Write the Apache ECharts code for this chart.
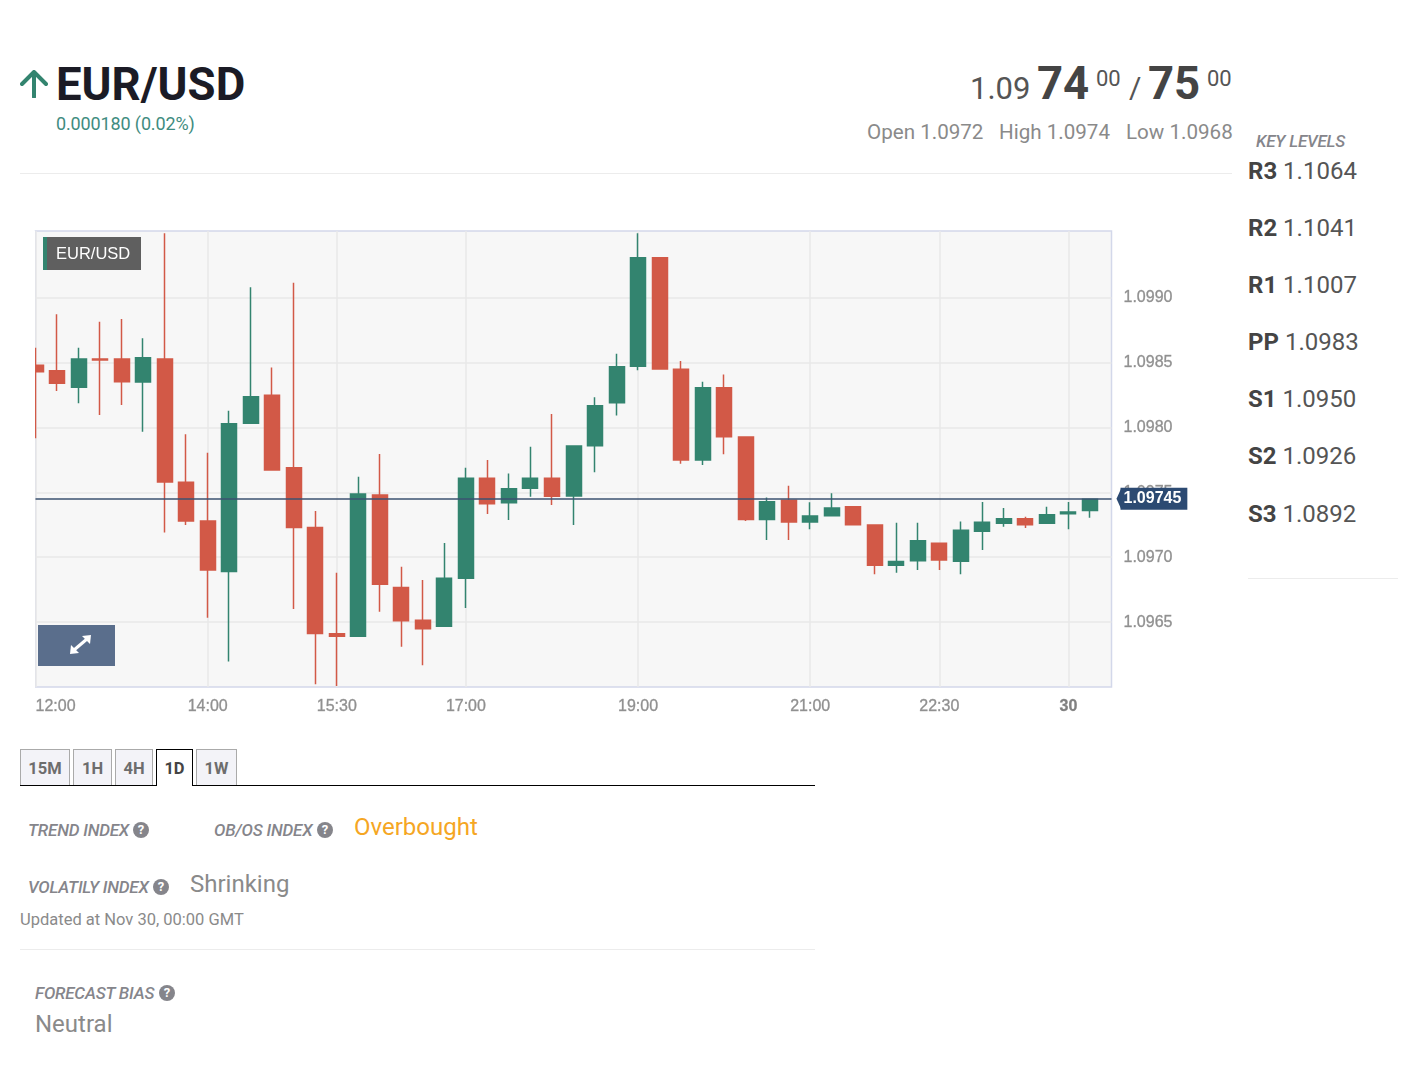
<!DOCTYPE html>
<html>
<head>
<meta charset="utf-8">
<title>EUR/USD</title>
<script src="https://cdn.jsdelivr.net/npm/echarts@6/dist/echarts.min.js"></script>
<style>
  html, body { margin: 0; padding: 0; background: #fff; font-family: Roboto, sans-serif; }
  #page { position: relative; width: 1413px; height: 1071px; overflow: hidden; }
  #chart { position: absolute; left: 0; top: 200px; width: 1413px; height: 530px; }
  .t { position: absolute; white-space: nowrap; line-height: 1; color: #8a8a8a; }
  .head { font-style: italic; font-weight: 500; font-size: 17px; letter-spacing: -0.2px; color: #85858b; }
  .big { font-size: 24px; }
  .hr { position: absolute; height: 1px; background: #ececec; }
  .q { position: absolute; width: 16px; height: 16px; border-radius: 50%; background: #85858b; color: #fff;
       font-size: 13px; font-weight: 700; line-height: 16px; text-align: center; }
  .tab { position: absolute; top: 749px; height: 35px; box-sizing: content-box; background: #f3f3f8;
         border: 1px solid #aaa; border-bottom: 0; margin-left: 0; font-size: 16.5px; font-weight: 700; color: #6d6d6d;
         line-height: 37px; text-align: center; }
  .tab.on { background: #fff; border: 1px solid #000; border-bottom: 0; color: #444; height: 36px; z-index: 2; }
  .lvl { font-size: 24px; color: #555; }
  .lvl b { color: #444; font-weight: 700; }
</style>
</head>
<body>
<div id="page">
  <svg style="position:absolute;left:20px;top:70px" width="28" height="28" viewBox="0 0 28 28">
    <path d="M14 27 V3 M2 14 L14 2 L26 14" fill="none" stroke="#33846f" stroke-width="4" stroke-linecap="round" stroke-linejoin="round"/>
  </svg>
  <div class="t" style="left:56px;top:62px;font-size:45.5px;font-weight:700;color:#1b1b25">EUR/USD</div>
  <div class="t" style="left:56px;top:115px;font-size:18px;color:#3f8c80;letter-spacing:-0.13px">0.000180 (0.02%)</div>

  <div class="t" style="left:970px;top:73px;font-size:31px;color:#555">1.09</div>
  <div class="t" style="left:1037px;top:61px;font-size:45.5px;font-weight:700;color:#444">74</div>
  <div class="t" style="left:1096px;top:68px;font-size:22px;color:#555">00</div>
  <div class="t" style="left:1129px;top:73px;font-size:30px;color:#555">/</div>
  <div class="t" style="left:1148px;top:61px;font-size:45.5px;font-weight:700;color:#444">75</div>
  <div class="t" style="left:1207px;top:68px;font-size:22px;color:#555">00</div>

  <div class="t" style="left:867px;top:122px;font-size:20.6px">Open 1.0972</div>
  <div class="t" style="left:999px;top:122px;font-size:20.6px">High 1.0974</div>
  <div class="t" style="left:1126px;top:122px;font-size:20.6px">Low 1.0968</div>
  <div class="hr" style="left:20px;top:173px;width:1212px"></div>

  <div class="t head" style="left:1256px;top:133px">KEY LEVELS</div>
  <div id="levels"></div>
  <div class="hr" style="left:1248px;top:578px;width:150px"></div>

  <div id="chart"></div>

  <div id="tabs"></div>
  <div style="position:absolute;left:20px;top:785px;width:795px;height:1px;background:#000"></div>

  <div class="t head" style="left:28px;top:822px">TREND INDEX</div>
  <div class="q" style="left:133px;top:822px">?</div>
  <div class="t head" style="left:214px;top:822px">OB/OS INDEX</div>
  <div class="q" style="left:317px;top:822px">?</div>
  <div class="t big" style="left:354px;top:815px;color:#f5a623">Overbought</div>

  <div class="t head" style="left:28px;top:879px">VOLATILY INDEX</div>
  <div class="q" style="left:153px;top:879px">?</div>
  <div class="t big" style="left:190px;top:872px">Shrinking</div>
  <div class="t" style="left:20px;top:912px;font-size:16.5px">Updated at Nov 30, 00:00 GMT</div>
  <div class="hr" style="left:20px;top:949px;width:795px"></div>

  <div class="t head" style="left:35px;top:985px">FORECAST BIAS</div>
  <div class="q" style="left:159px;top:985px">?</div>
  <div class="t big" style="left:35px;top:1012px">Neutral</div>
</div>

<script>
// 15 minute candles, last slot on the axis stays empty
const categories = [
  '12:00','12:15','12:30','12:45','13:00','13:15','13:30','13:45',
  '14:00','14:15','14:30','14:45','15:00','15:15','15:30','15:45',
  '16:00','16:15','16:30','16:45','17:00','17:15','17:30','17:45',
  '18:00','18:15','18:30','18:45','19:00','19:15','19:30','19:45',
  '20:00','20:15','20:30','20:45','21:00','21:15','21:30','21:45',
  '22:00','22:15','22:30','22:45','23:00','23:15','23:30','23:45',
  '30','00:15','00:30'
]
const opens = [
  1.098479,1.098437,1.098309,1.098527,1.098527,1.098350,1.098527,1.097577,1.097279,1.096891,
  1.098032,1.098248,1.097689,1.097230,1.096410,1.096392,1.097479,1.096767,1.096515,1.096469,
  1.096839,1.097608,1.097420,1.097531,1.097608,1.097471,1.097859,1.098191,1.098471,1.099308,
  1.098448,1.097749,1.098306,1.097926,1.097290,1.097440,1.097271,1.097319,1.097389,1.097248,
  1.096939,1.096973,1.097107,1.096970,1.097201,1.097261,1.097296,1.097261,1.097335,1.097361
]
const closes = [
  1.098430,1.098340,1.098527,1.098520,1.098352,1.098537,1.097579,1.097279,1.096901,1.098029,
  1.098237,1.097672,1.097230,1.096413,1.096392,1.097487,1.096791,1.096510,1.096448,1.096839,
  1.097608,1.097412,1.097528,1.097608,1.097469,1.097857,1.098167,1.098468,1.099308,1.098450,
  1.097749,1.098306,1.097928,1.097290,1.097427,1.097271,1.097317,1.097379,1.097250,1.096939,
  1.096968,1.097127,1.096978,1.097207,1.097269,1.097296,1.097250,1.097327,1.097348,1.097446
]
const lows = [
  1.097916,1.098281,1.098186,1.098096,1.098173,1.097967,1.097191,1.097248,1.096533,1.096197,
  1.098032,1.097672,1.096602,1.096022,1.096007,1.096392,1.096579,1.096310,1.096168,1.096469,
  1.096608,1.097333,1.097286,1.097466,1.097402,1.097248,1.097654,1.098093,1.098440,1.098450,
  1.097720,1.097710,1.097793,1.097279,1.097132,1.097132,1.097215,1.097319,1.097250,1.096868,
  1.096880,1.096901,1.096901,1.096868,1.097055,1.097235,1.097225,1.097261,1.097215,1.097304
]
const highs = [
  1.098615,1.098872,1.098615,1.098815,1.098836,1.098687,1.099496,1.097947,1.097805,1.098129,
  1.099080,1.098463,1.099116,1.097356,1.096880,1.097620,1.097795,1.096926,1.096824,1.097109,
  1.097689,1.097749,1.097646,1.097851,1.098103,1.097857,1.098232,1.098568,1.099496,1.099308,
  1.098512,1.098352,1.098409,1.097926,1.097461,1.097551,1.097423,1.097494,1.097389,1.097248,
  1.097265,1.097265,1.097107,1.097276,1.097425,1.097379,1.097312,1.097389,1.097425,1.097446
]
const xTickLabels = ['12:00','14:00','15:30','17:00','19:00','21:00','22:30','30']
const yTicks = [1.0965, 1.0970, 1.0975, 1.0980, 1.0985, 1.0990]
const lastPrice = 1.09745
const lastPriceLabel = '1.09745'

const levelNames = ['R3','R2','R1','PP','S1','S2','S3']
const levelValues = ['1.1064','1.1041','1.1007','1.0983','1.0950','1.0926','1.0892']
const levelTops = [159, 216, 273, 330, 387, 444, 502]

const tabNames = ['15M','1H','4H','1D','1W']
const tabLefts = [20, 73, 115, 156, 196]
const tabWidths = [48, 37, 36, 35, 39]

document.getElementById('levels').innerHTML = levelNames.map((name, i) =>
  `<div class="t lvl" style="left:1248px;top:${levelTops[i]}px"><b>${name}</b> ${levelValues[i]}</div>`
).join('')

document.getElementById('tabs').innerHTML = tabNames.map((name, i) =>
  `<div class="tab${name === '1D' ? ' on' : ''}" style="left:${tabLefts[i]}px;width:${tabWidths[i]}px">${name}</div>`
).join('')

const showX = (index, value) => xTickLabels.includes(value)

const up = '#33846f'
const down = '#d25947'

const myChart = echarts.init(document.getElementById('chart'))

const option = {
  animation: false,
  grid: {
    show: true,
    left: 35.5,
    top: 31,
    width: 1076,
    height: 456,
    backgroundColor: '#f7f7f7',
    borderColor: '#d3d8ea',
    borderWidth: 1.5
  },
  xAxis: {
    type: 'category',
    data: categories,
    boundaryGap: false,
    axisLine: { show: false },
    axisTick: { show: false },
    axisLabel: {
      interval: showX,
      alignMinLabel: 'left',
      margin: 12,
      color: '#909090',
      textBorderColor: '#a8a8a8',
      textBorderWidth: 0.4,
      fontFamily: 'Liberation Sans',
      fontSize: 16,
      formatter: (value) => value === '30' ? '{b|30}' : value,
      rich: {
        b: { color: '#808080', fontWeight: 'bold', fontFamily: 'Liberation Sans', fontSize: 16 }
      }
    },
    splitLine: {
      show: true,
      interval: showX,
      lineStyle: { color: '#e8e8e8', width: 1.5 }
    }
  },
  yAxis: {
    type: 'value',
    position: 'right',
    min: 1.0960,
    max: 1.099514,
    axisLine: { show: false },
    axisTick: { show: false, customValues: yTicks },
    axisLabel: {
      customValues: yTicks,
      margin: 12,
      padding: [4, 0, 0, 0],
      color: '#909090',
      textBorderColor: '#a8a8a8',
      textBorderWidth: 0.4,
      fontFamily: 'Liberation Sans',
      fontSize: 16,
      formatter: (value) => value.toFixed(4)
    },
    splitLine: {
      show: true,
      lineStyle: { color: '#e8e8e8', width: 1.5 }
    }
  },
  graphic: [
    // candlestick clip only drops whole boxes, so hide what hangs over the left edge
    { type: 'rect', z: 50, shape: { x: 20, y: 31, width: 15, height: 457 }, style: { fill: '#fff' } },
    { type: 'rect', z: 100, shape: { x: 43, y: 37, width: 98, height: 33 }, style: { fill: '#5f5f5f' } },
    { type: 'rect', z: 101, shape: { x: 43, y: 37, width: 4, height: 33 }, style: { fill: up } },
    { type: 'text', z: 102, x: 56, y: 46, style: { text: 'EUR/USD', fill: '#fff', font: '16.5px "Liberation Sans"' } },
    { type: 'rect', z: 100, shape: { x: 38, y: 425, width: 77, height: 41 }, style: { fill: '#5a6e8c' } },
    { type: 'polyline', z: 101, shape: { points: [[74, 450], [87, 439]] }, style: { stroke: '#fff', lineWidth: 3, fill: null } },
    { type: 'polygon', z: 101, shape: { points: [[91, 435], [82, 436], [90, 444]] }, style: { fill: '#fff' } },
    { type: 'polygon', z: 101, shape: { points: [[70, 454], [71, 445], [79, 453]] }, style: { fill: '#fff' } }
  ],
  series: [
    {
      type: 'candlestick',
      barWidth: 15.5,
      data: opens.map((open, i) => [open, closes[i], lows[i], highs[i]]),
      itemStyle: {
        color: up,
        color0: down,
        borderColor: up,
        borderColor0: down,
        borderWidth: 1.5
      },
      markLine: {
        silent: true,
        symbol: ['none', 'none'],
        precision: 6,
        data: [{ yAxis: lastPrice }],
        lineStyle: { color: '#3b5270', width: 1.5, type: 'solid' },
        label: {
          position: 'end',
          distance: 9,
          formatter: lastPriceLabel,
          color: '#fff',
          backgroundColor: '#2c4a72',
          fontFamily: 'Liberation Sans',
          fontWeight: 'bold',
          fontSize: 16,
          padding: [4, 6, 2, 3]
        }
      },
      markPoint: {
        silent: true,
        symbol: 'triangle',
        symbolSize: [22, 5],
        symbolRotate: 90,
        symbolOffset: [7.5, 0],
        itemStyle: { color: '#2c4a72' },
        label: { show: false },
        data: [{ coord: ['00:30', lastPrice] }]
      }
    }
  ]
}

option && myChart.setOption(option)

window.addEventListener('resize', function () {
  myChart.resize()
})
</script>
</body>
</html>
